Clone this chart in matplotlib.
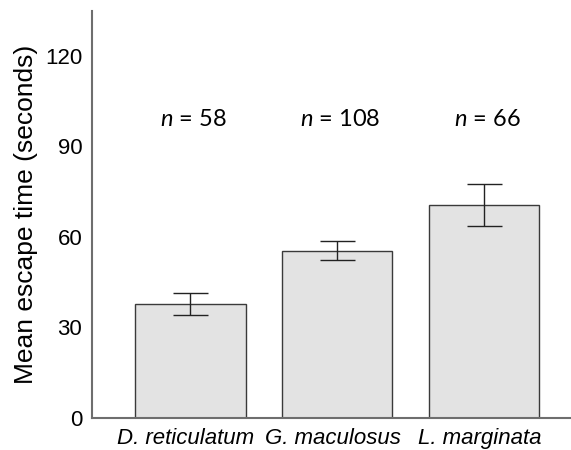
import matplotlib
matplotlib.use("Agg")
import matplotlib.pyplot as plt
import matplotlib.transforms as mtransforms

species = ["D. reticulatum", "G. maculosus", "L. marginata"]
means = [37.7, 55.4, 70.5]
errors = [3.6, 3.1, 6.9]
sample_sizes = [58, 108, 66]
yticks = [0, 30, 60, 90, 120]

plt.rcParams['font.family'] = ['Liberation Sans', 'DejaVu Sans']
plt.rcParams['mathtext.fontset'] = 'custom'
plt.rcParams['mathtext.it'] = 'Lato:italic'
plt.rcParams['mathtext.rm'] = 'Lato'

fig = plt.figure(figsize=(5.71, 4.5), dpi=100)
ax = fig.add_axes([92/571, 1 - 418/450, (571-92)/571, (418-11)/450])

x = list(range(len(species)))
ax.bar(x, means, width=0.755, color='#e3e3e3', edgecolor='#3a3a3a', linewidth=1.0, zorder=2)
ax.errorbar(x, means, yerr=errors, fmt='none', ecolor='#222222', elinewidth=1.0,
            capsize=12.6, capthick=1.0, zorder=3)

for xi, n in zip(x, sample_sizes):
    ax.text(xi + 0.02, 99.0, r"$\mathit{n}$" + f" = {n}", ha='center', va='center', fontsize=17,
            family=['Lato', 'DejaVu Sans'])

ax.set_xlim(-0.667, 2.592)
ax.set_ylim(0, 134.8)
ax.set_yticks(yticks)
ax.set_yticklabels([str(t) for t in yticks], fontsize=16)
ax.set_xticks(x)
ax.set_xticklabels(species, fontsize=16, style='italic')
ax.tick_params(length=0)
ax.tick_params(axis='y', pad=7)
ax.tick_params(axis='x', pad=7)
offset = mtransforms.ScaledTranslation(-4/100, 0, fig.dpi_scale_trans)
for lab in ax.get_xticklabels():
    lab.set_transform(lab.get_transform() + offset)
ax.set_ylabel("Mean escape time (seconds)", fontsize=19, labelpad=5)

for s in ['top', 'right']:
    ax.spines[s].set_visible(False)
for s in ['left', 'bottom']:
    ax.spines[s].set_color('#6e6e6e')
    ax.spines[s].set_linewidth(1.5)

fig.savefig("out.png", dpi=100)
